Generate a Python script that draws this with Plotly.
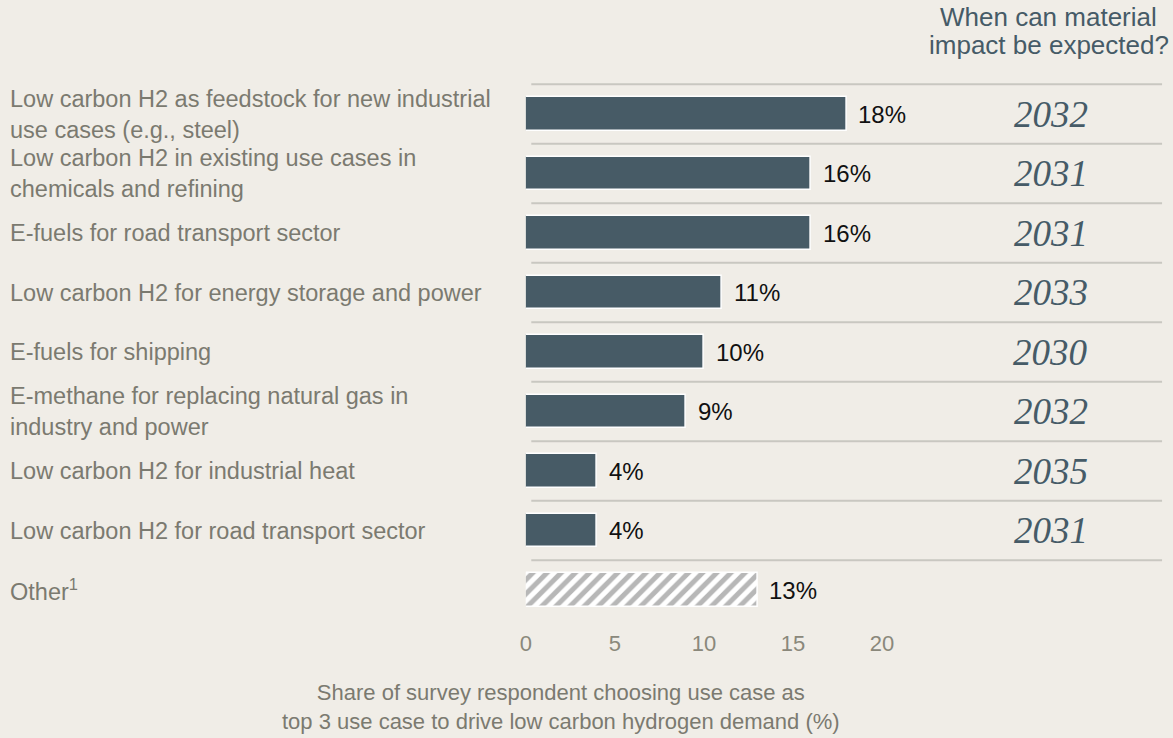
import plotly.graph_objects as go

# Survey data
use_cases = [
    "Low carbon H2 as feedstock for new industrial<br>use cases (e.g., steel)",
    "Low carbon H2 in existing use cases in<br>chemicals and refining",
    "E-fuels for road transport sector",
    "Low carbon H2 for energy storage and power",
    "E-fuels for shipping",
    "E-methane for replacing natural gas in<br>industry and power",
    "Low carbon H2 for industrial heat",
    "Low carbon H2 for road transport sector",
    "Other<sup>1</sup>",
]
share_pct = [18, 16, 16, 11, 10, 9, 4, 4, 13]
impact_year = ["2032", "2031", "2031", "2033", "2030", "2032", "2035", "2031"]
x_ticks = [0, 5, 10, 15, 20]

W, H = 1173, 738
BG = "#F0EDE7"
BAR = "#475B66"
LABEL_GREY = "#7B7A70"
TICK_GREY = "#8A887B"
SLATE = "#465B67"
RULE = "#C9C7C1"

# pixel geometry helpers (margins are zero, so paper == pixels)
def px(x):
    return x / W

def py(y):
    return 1 - y / H

row_top, row_step = 114.0, 59.5
plot_bottom = 628.0
zero_px, unit_px = 522.5, 17.9

n_solid = len(impact_year)
rows = list(range(len(use_cases)))

fig = go.Figure()

fig.add_trace(go.Bar(
    y=rows[:n_solid], x=share_pct[:n_solid], orientation="h",
    marker=dict(color=BAR, line=dict(color="white", width=1.5)),
    width=0.56, hoverinfo="skip",
))
fig.add_trace(go.Bar(
    y=rows[n_solid:], x=share_pct[n_solid:], orientation="h",
    marker=dict(color="white", line=dict(color="white", width=1.5),
                pattern=dict(shape="/", fgcolor="#6F6F6F", bgcolor="white",
                             size=10, solidity=0.5)),
    width=0.56, hoverinfo="skip",
))

annotations = []
for i, (name, v) in enumerate(zip(use_cases, share_pct)):
    annotations.append(dict(
        x=px(2), xref="paper", y=i, yref="y", xanchor="left", yanchor="middle",
        text=name, showarrow=False, align="left",
        font=dict(family="Liberation Sans, Arial", size=23.5, color=LABEL_GREY),
    ))
    annotations.append(dict(
        x=v, xref="x", y=i, yref="y", xanchor="left", yanchor="middle",
        xshift=10, text=f"{v}%", showarrow=False,
        font=dict(family="Liberation Sans, Arial", size=24, color="#111111"),
    ))
for i, yr in enumerate(impact_year):
    annotations.append(dict(
        x=px(1050), xref="paper", y=i, yref="y", xanchor="center", yanchor="middle",
        text=f"<i>{yr}</i>", showarrow=False,
        font=dict(family="Liberation Serif, Times New Roman", size=37, color=SLATE),
    ))

# column header
for text, yc in [("When can material", 17), ("impact be expected?", 45)]:
    annotations.append(dict(
        x=px(1048), xref="paper", y=py(yc), yref="paper", xanchor="center", yanchor="middle",
        text=text, showarrow=False,
        font=dict(family="Liberation Sans, Arial", size=26, color=SLATE),
    ))

# axis caption
annotations.append(dict(
    x=px(558), xref="paper", y=py(707), yref="paper", xanchor="center", yanchor="middle",
    text="Share of survey respondent choosing use case as<br>"
         "top 3 use case to drive low carbon hydrogen demand (%)",
    showarrow=False, align="center",
    font=dict(family="Liberation Sans, Arial", size=22, color=LABEL_GREY),
))

# horizontal rules between rows
shapes = []
for k in range(n_solid + 1):
    yk = k - 0.5
    shapes.append(dict(
        type="line", xref="paper", yref="y", x0=px(528), x1=px(1162), y0=yk, y1=yk,
        line=dict(color=RULE, width=2), layer="below",
    ))

y_top_val = (0 - row_top) / row_step
y_bot_val = (plot_bottom - row_top) / row_step

fig.update_layout(
    width=W, height=H,
    margin=dict(l=0, r=0, t=0, b=0),
    paper_bgcolor=BG, plot_bgcolor=BG,
    showlegend=False, bargap=0,
    annotations=annotations, shapes=shapes,
    xaxis=dict(
        domain=[px(zero_px), 1], range=[0, (W - zero_px) / unit_px],
        tickvals=x_ticks, ticks="", showgrid=False, zeroline=False, showline=False,
        tickfont=dict(family="Liberation Sans, Arial", size=22, color=TICK_GREY),
    ),
    yaxis=dict(
        domain=[py(plot_bottom), 1], range=[y_bot_val, y_top_val],
        showticklabels=False, showgrid=False, zeroline=False, showline=False,
    ),
)

fig.write_html("out.html")
